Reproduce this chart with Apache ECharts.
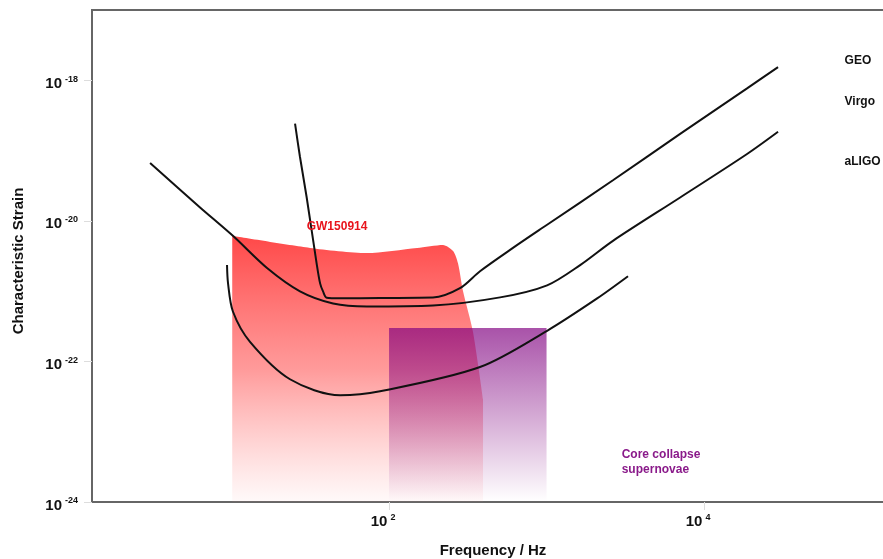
<!DOCTYPE html>
<html lang="en">
<head>
    <meta charset="UTF-8" />
    <title>Characteristic strain</title>
    <script src="https://cdn.jsdelivr.net/npm/echarts@6/dist/echarts.min.js"></script>
    <style>
        html, body { margin: 0; padding: 0; background: #fff; }
        #chart { width: 883px; height: 559px; }
    </style>
</head>
<body>
    <div id="chart"></div>
    <script>
        // [frequency Hz, strain]
        let geoCurve = [
            [25.3, 2.41e-19], [27.2, 8.1e-20], [30.0, 2.15e-20], [34.8, 2.37e-21],
            [36.5, 1.29e-21], [38.1, 9.9e-22], [40.2, 8.07e-22], [48.9, 7.9e-22],
            [87.7, 8.0e-22], [190, 8.1e-22], [282, 1.10e-21], [378, 1.92e-21],
            [612, 4.12e-21], [1008, 8.8e-21], [2640, 3.78e-20], [7050, 1.73e-19],
            [18750, 7.67e-19], [29500, 1.54e-18]
        ];
        let virgoCurve = [
            [3.04, 6.64e-20], [6.31, 1.55e-20], [10.2, 6.12e-21], [16.8, 2.13e-21],
            [27.2, 9.93e-22], [44.1, 6.68e-22], [72.4, 6.05e-22], [190, 6.25e-22],
            [507, 8.15e-22], [1008, 1.21e-21], [1634, 2.35e-21], [2640, 5.2e-21],
            [7050, 2.15e-20], [18750, 8.93e-20], [29500, 1.85e-19]
        ];
        let aligoCurve = [
            [9.36, 2.35e-21], [9.5, 1.29e-21], [10.2, 5.13e-22], [13.1, 1.90e-22],
            [23.5, 5.58e-23], [48.9, 3.29e-23], [87.7, 3.76e-23], [378, 8.32e-23],
            [1008, 2.73e-22], [2095, 7.88e-22], [3290, 1.63e-21]
        ];
        let gw150914 = [
            [10.1, 6.12e-21], [31.5, 4.12e-21], [72.4, 3.49e-21], [150.6, 4.12e-21],
            [220, 4.55e-21], [255, 3.73e-21], [274, 2.5e-21], [295, 9.93e-22],
            [341, 2.64e-22], [395, 2.88e-23]
        ];
        let supernovae = [[100, 3e-22], [1000, 3e-22]];

        // [frequency, strain, text]
        let curveLabels = [
            [78000, 1.87e-18, "GEO"],
            [78000, 5.0e-19, "Virgo"],
            [78000, 6.9e-20, "aLIGO"]
        ];
        let gwLabel = [[30, 8.3e-21, "GW150914"]];
        let snLabel = [[3000, 3.7e-24, "Core collapse\nsupernovae"]];

        let xTickPowers = [2, 4];
        let yTickPowers = [-24, -22, -20, -18];

        let toLog = arr => arr.map(p => [Math.log10(p[0]), Math.log10(p[1])]);
        let toLogLabel = arr => arr.map(p => ({ value: [Math.log10(p[0]), Math.log10(p[1])], name: p[2] }));

        let fontFamily = "'Liberation Sans', Arial, sans-serif";

        let powerRich = {
            b: { fontSize: 15, fontWeight: "bold", color: "#111", fontFamily: fontFamily },
            s: { fontSize: 9, fontWeight: "bold", color: "#111", fontFamily: fontFamily, padding: [0, 0, 9, 3] }
        };

        let myChart = echarts.init(document.getElementById("chart"), null, { renderer: "canvas" });

        let lineSeries = (data) => ({
            type: "line",
            data: toLog(data),
            showSymbol: false,
            smooth: 0.3,
            lineStyle: { color: "#111", width: 2 },
            z: 5,
            silent: true
        });

        let labelSeries = (data, color) => ({
            type: "scatter",
            data: toLogLabel(data),
            symbolSize: 0,
            itemStyle: { opacity: 1 },
            z: 6,
            silent: true,
            label: {
                show: true,
                position: "right",
                distance: 0,
                formatter: p => p.name,
                color: color,
                fontSize: 12,
                fontWeight: "bold",
                lineHeight: 15,
                fontFamily: fontFamily
            }
        });

        let option = {
            animation: false,
            backgroundColor: "#fff",
            grid: {
                left: 92, top: 10, bottom: 57, right: -11,
                outerBoundsMode: "none",
                containLabel: false,
                show: true, borderColor: "#666", borderWidth: 2
            },
            xAxis: {
                type: "value",
                min: 0.114,
                max: 5.206,
                name: "Frequency / Hz",
                nameLocation: "middle",
                nameGap: 41,
                nameTextStyle: { fontSize: 15, fontWeight: "bold", color: "#111", fontFamily: fontFamily },
                axisLine: { show: false },
                splitLine: { show: false },
                axisTick: { show: true, length: 8, lineStyle: { color: "#ddd" }, customValues: xTickPowers },
                axisLabel: {
                    customValues: xTickPowers,
                    margin: 11,
                    padding: [0, 12, 0, 0],
                    formatter: v => "{b|10}{s|" + v + "}",
                    rich: powerRich
                }
            },
            yAxis: {
                type: "value",
                min: -24,
                max: -17,
                name: "Characteristic Strain",
                nameLocation: "middle",
                nameGap: 66,
                nameTextStyle: {
                    fontSize: 15, fontWeight: "bold", color: "#111", fontFamily: fontFamily,
                    padding: [0, 10, 0, 0]
                },
                axisLine: { show: false },
                splitLine: { show: false },
                axisTick: { show: true, length: 8, lineStyle: { color: "#ddd" }, customValues: yTickPowers },
                axisLabel: {
                    customValues: yTickPowers,
                    margin: 14,
                    padding: [7, 0, 0, 0],
                    formatter: v => "{b|10}{s|" + v + "}",
                    rich: powerRich
                }
            },
            series: [
                {
                    type: "line",
                    data: toLog(gw150914),
                    showSymbol: false,
                    smooth: 0.25,
                    lineStyle: { width: 0 },
                    areaStyle: {
                        origin: "start",
                        opacity: 1,
                        color: new echarts.graphic.LinearGradient(0, 0, 0, 1, [
                            { offset: 0, color: "rgba(255,72,72,1)" },
                            { offset: 0.5, color: "rgba(255,120,120,0.75)" },
                            { offset: 1, color: "rgba(255,150,150,0.05)" }
                        ])
                    },
                    z: 2,
                    silent: true
                },
                {
                    type: "line",
                    data: toLog(supernovae),
                    showSymbol: false,
                    lineStyle: { width: 0 },
                    areaStyle: {
                        origin: "start",
                        opacity: 1,
                        color: new echarts.graphic.LinearGradient(0, 0, 0, 1, [
                            { offset: 0, color: "rgba(128,0,128,0.68)" },
                            { offset: 1, color: "rgba(128,0,128,0.0)" }
                        ])
                    },
                    z: 3,
                    silent: true
                },
                lineSeries(geoCurve),
                lineSeries(virgoCurve),
                lineSeries(aligoCurve),
                labelSeries(curveLabels, "#111"),
                labelSeries(gwLabel, "#e8141c"),
                labelSeries(snLabel, "#8a1a8a")
            ]
        };

        myChart.setOption(option);
    </script>
</body>
</html>
